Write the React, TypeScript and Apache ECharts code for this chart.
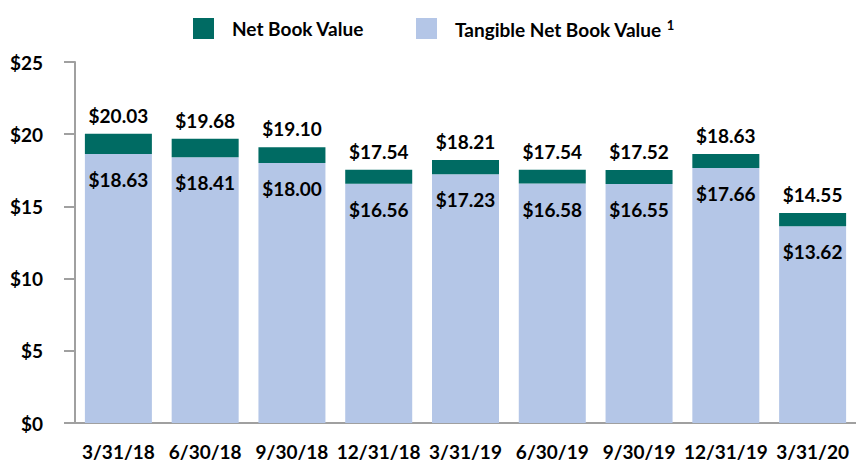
import React, { useEffect, useRef } from "react";
import * as echarts from "echarts";

const categories = ["3/31/18", "6/30/18", "9/30/18", "12/31/18", "3/31/19", "6/30/19", "9/30/19", "12/31/19", "3/31/20"];
const netBookValue = [20.03, 19.68, 19.1, 17.54, 18.21, 17.54, 17.52, 18.63, 14.55];
const tangibleNetBookValue = [18.63, 18.41, 18.0, 16.56, 17.23, 16.58, 16.55, 17.66, 13.62];
const yTicks = [0, 5, 10, 15, 20, 25];

const TEAL = "#006b63";
const LIGHT = "#b4c6e7";
const AXIS = "#a0a0a0";
const FONT = "Lato, 'Open Sans', sans-serif";

export default function App() {
  const ref = useRef<HTMLDivElement>(null);
  useEffect(() => {
    if (!ref.current) return;
    const chart = echarts.init(ref.current, undefined, { renderer: "svg" });
    const diff = netBookValue.map((v, i) => +(v - tangibleNetBookValue[i]).toFixed(2));
    const labelStyle = { fontFamily: FONT, fontWeight: "bold" as const, fontSize: 19, color: "#000" };
    const legendText = { fontFamily: FONT, fontWeight: "bold" as const, fontSize: 19, color: "#000" };
    chart.setOption({
      animation: false,
      textStyle: { fontFamily: FONT },
      legend: [
        {
          data: ["Net Book Value"],
          left: 188,
          top: 13,
          itemWidth: 21,
          itemHeight: 21,
          icon: "rect",
          selectedMode: false,
          textStyle: { ...legendText, padding: [0, 0, 0, 13] },
        },
        {
          data: ["Tangible Net Book Value"],
          left: 411,
          top: 13,
          itemWidth: 21,
          itemHeight: 21,
          icon: "rect",
          selectedMode: false,
          formatter: (name: string) => "{main|" + name + "}{sup|1}",
          textStyle: {
            ...legendText,
            padding: [0, 0, 0, 13],
            rich: {
              main: { fontFamily: FONT, fontWeight: "bold", fontSize: 19, color: "#000", lineHeight: 21, verticalAlign: "bottom" },
              sup: { fontFamily: FONT, fontWeight: "bold", fontSize: 13, color: "#000", lineHeight: 11, verticalAlign: "top", padding: [0, 0, 0, 5] },
            },
          },
        },
      ],
      grid: { left: 75, right: -5, top: 62, bottom: 39, containLabel: false },
      xAxis: {
        type: "category",
        data: categories,
        axisTick: { show: false },
        axisLine: { lineStyle: { color: AXIS, width: 2 } },
        axisLabel: { ...labelStyle, margin: 19, interval: 0 },
      },
      yAxis: {
        type: "value",
        min: yTicks[0],
        max: yTicks[yTicks.length - 1],
        interval: 5,
        splitLine: { show: false },
        axisLine: { show: true, lineStyle: { color: AXIS, width: 2 } },
        axisTick: { show: true, inside: false, length: 11, lineStyle: { color: AXIS, width: 2 } },
        axisLabel: { ...labelStyle, margin: 32, formatter: (v: number) => "$" + v },
      },
      series: [
        {
          name: "Tangible Net Book Value",
          type: "bar",
          stack: "bv",
          data: tangibleNetBookValue,
          barWidth: 67,
          itemStyle: { color: LIGHT },
          label: {
            show: true,
            position: "insideTop",
            distance: 16,
            ...labelStyle,
            formatter: (p: any) => "$" + tangibleNetBookValue[p.dataIndex].toFixed(2),
          },
        },
        {
          name: "Net Book Value",
          type: "bar",
          stack: "bv",
          data: diff,
          barWidth: 67,
          itemStyle: { color: TEAL },
          label: {
            show: true,
            position: "top",
            distance: 9,
            ...labelStyle,
            formatter: (p: any) => "$" + netBookValue[p.dataIndex].toFixed(2),
          },
        },
      ],
    });
    return () => chart.dispose();
  }, []);
  return <div ref={ref} style={{ position: "absolute", left: 0, top: 0, width: 856, height: 462 }} />;
}
